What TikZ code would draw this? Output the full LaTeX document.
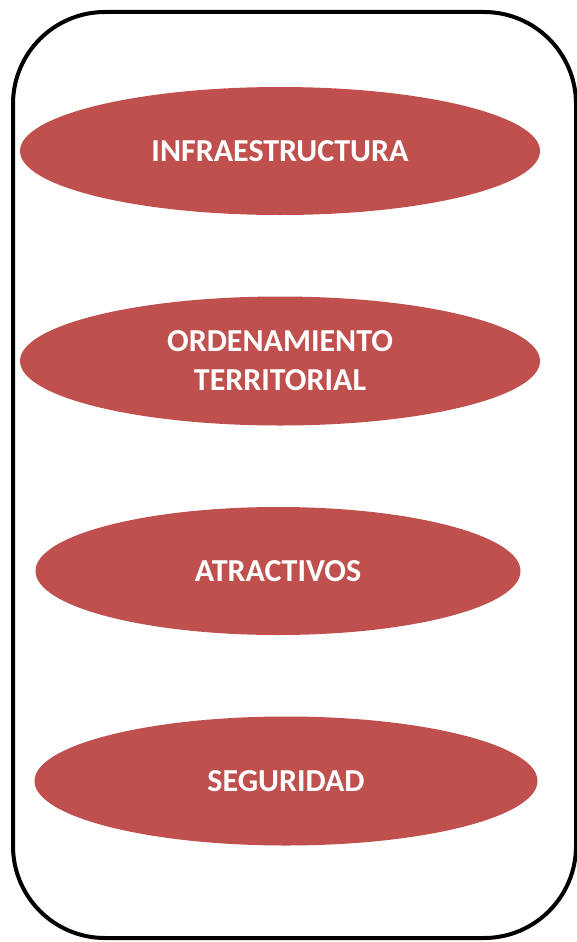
\documentclass[tikz,border=0pt]{standalone}
\usepackage{fontspec}
\setmainfont{Carlito}
\usetikzlibrary{shapes.geometric}
\definecolor{ovalred}{HTML}{C0504D}
\tikzset{
  oval/.style={ellipse, fill=ovalred, draw=none, inner sep=0pt, text=white,
    font=\bfseries\fontsize{32}{39}\selectfont, align=center},
  frame/.style={draw=black, line width=4pt, rounded corners=92pt}
}
\begin{document}
\begin{tikzpicture}[x=1pt,y=-1pt]
\useasboundingbox (0,0) rectangle (577,942);
\draw[frame] (13,12) rectangle (576,938);
\node[oval, minimum width=520pt, minimum height=128pt] (infra) at (280,151) {INFRAESTRUCTURA};
\node[oval, minimum width=520pt, minimum height=129pt] (orden) at (280,361) {ORDENAMIENTO\\TERRITORIAL};
\node[oval, minimum width=485pt, minimum height=128pt] (atrac) at (278,571) {ATRACTIVOS};
\node[oval, minimum width=503pt, minimum height=129pt] (segur) at (286,781) {SEGURIDAD};
\end{tikzpicture}
\end{document}
